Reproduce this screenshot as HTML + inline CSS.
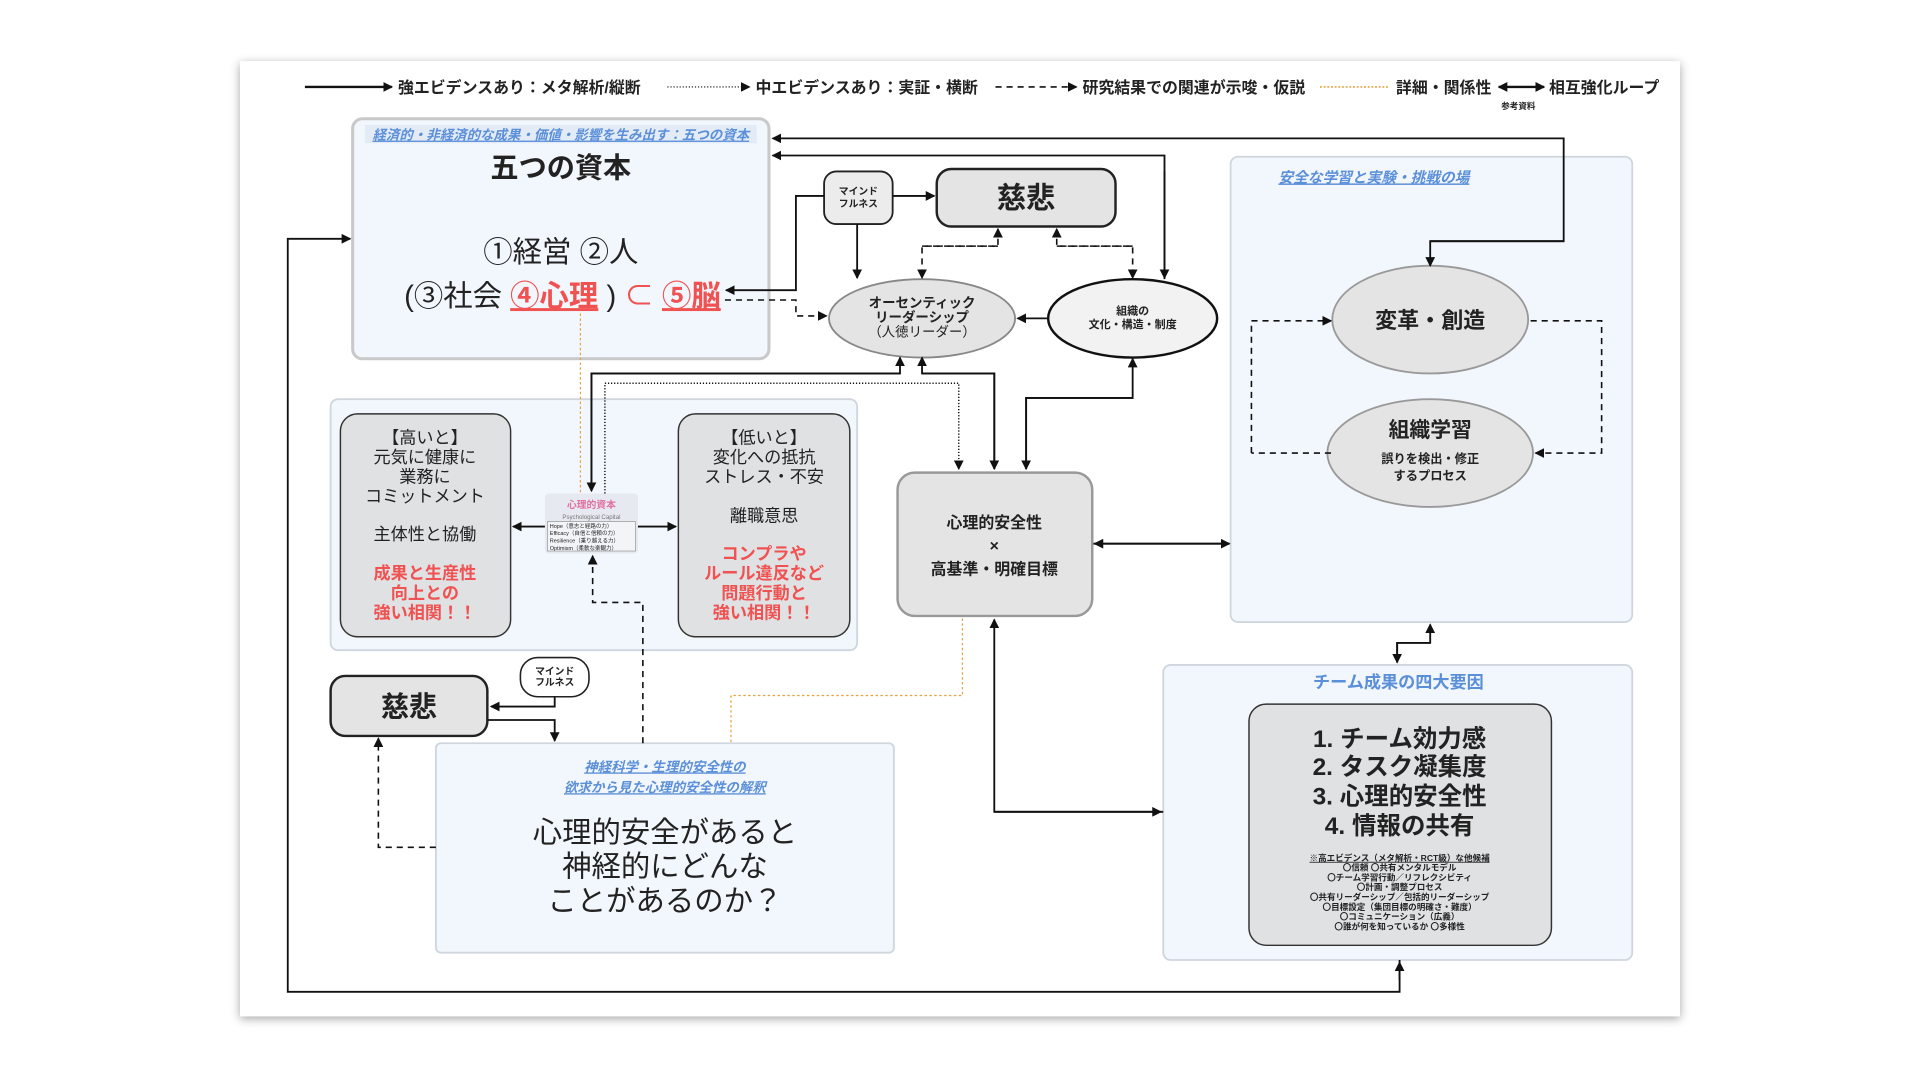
<!DOCTYPE html>
<html><head><meta charset="utf-8"><style>
html,body{margin:0;padding:0;background:#fff;width:1920px;height:1080px;overflow:hidden}
svg{display:block}
text{font-family:"Liberation Sans","Noto Sans CJK JP",sans-serif;fill:#222}
</style></head><body>
<svg width="1920" height="1080" viewBox="0 0 1568 882" xmlns="http://www.w3.org/2000/svg">
<defs>
<marker id="a" markerWidth="8" markerHeight="8" refX="7" refY="4" orient="auto-start-reverse" markerUnits="userSpaceOnUse"><path d="M0,0 L8,4 L0,8 z" fill="#111"/></marker>
<filter id="sh" x="-5%" y="-5%" width="110%" height="110%"><feDropShadow dx="0" dy="2" stdDeviation="4" flood-color="#000" flood-opacity="0.35"/></filter>
</defs>
<rect x="196" y="50" width="1176" height="780" fill="#fff" filter="url(#sh)"/>

<!-- legend -->
<g font-size="13" font-weight="bold">
<line x1="249" y1="71" x2="320" y2="71" stroke="#111" stroke-width="2" marker-end="url(#a)"/>
<text x="325" y="76">強エビデンスあり：メタ解析/縦断</text>
<line x1="545" y1="71" x2="612" y2="71" stroke="#111" stroke-width="1" stroke-dasharray="1,1.5" marker-end="url(#a)"/>
<text x="617" y="76">中エビデンスあり：実証・横断</text>
<line x1="813" y1="71" x2="879" y2="71" stroke="#111" stroke-width="1.3" stroke-dasharray="5,4" marker-end="url(#a)"/>
<text x="884" y="76">研究結果での関連が示唆・仮説</text>
<line x1="1078" y1="71" x2="1135" y2="71" stroke="#e8a040" stroke-width="1.3" stroke-dasharray="1.5,1.5"/>
<text x="1140" y="76">詳細・関係性</text>
<line x1="1224" y1="71" x2="1261" y2="71" stroke="#111" stroke-width="2" marker-end="url(#a)" marker-start="url(#a)"/>
<text x="1265" y="76">相互強化ループ</text>
<text x="1226" y="89" font-size="7">参考資料</text>
</g>

<!-- panels -->
<rect x="288" y="97" width="340" height="196" rx="8" fill="#f2f7fd" stroke="#c9c9c9" stroke-width="2.5"/>
<rect x="298" y="102" width="320" height="15" fill="#e3ebf7"/>
<text x="458" y="114" font-size="11" font-weight="bold" font-style="italic" text-anchor="middle" text-decoration="underline" style="fill:#5b8fd9">経済的・非経済的な成果・価値・影響を生み出す：五つの資本</text>
<text x="458" y="145" font-size="23" font-weight="bold" text-anchor="middle">五つの資本</text>
<text x="458" y="214" font-size="24" text-anchor="middle">①経営 ②人</text>
<text x="330" y="250" font-size="24">(③社会 <tspan style="fill:#f05252;font-weight:bold" text-decoration="underline">④心理</tspan> ) <tspan style="fill:#f05252">⊂</tspan> <tspan style="fill:#f05252;font-weight:bold" text-decoration="underline">⑤脳</tspan></text>

<rect x="1005" y="128" width="328" height="380" rx="6" fill="#f2f7fd" stroke="#d0d6de" stroke-width="1.5"/>
<text x="1122" y="149" font-size="12" font-weight="bold" font-style="italic" text-anchor="middle" text-decoration="underline" style="fill:#5b8fd9">安全な学習と実験・挑戦の場</text>

<rect x="270" y="326" width="430" height="205" rx="6" fill="#f2f7fd" stroke="#d0d6de" stroke-width="1.5"/>
<rect x="950" y="543" width="383" height="241" rx="6" fill="#f2f7fd" stroke="#d0d6de" stroke-width="1.5"/>
<text x="1142" y="562" font-size="14" font-weight="bold" text-anchor="middle" style="fill:#5b8fd9">チーム成果の四大要因</text>

<!-- nodes -->
<rect x="673" y="140" width="56" height="43" rx="10" fill="#ececec" stroke="#222" stroke-width="1.5"/>
<text x="701" y="159" font-size="8" font-weight="bold" text-anchor="middle">マインド</text>
<text x="701" y="169" font-size="8" font-weight="bold" text-anchor="middle">フルネス</text>
<rect x="765" y="138" width="146" height="47" rx="12" fill="#e4e4e4" stroke="#222" stroke-width="2"/>
<text x="838" y="170" font-size="24" font-weight="bold" text-anchor="middle">慈悲</text>

<ellipse cx="753" cy="260" rx="76" ry="32" fill="#e4e4e4" stroke="#888" stroke-width="1.5"/>
<text x="753" y="251" font-size="11" font-weight="bold" text-anchor="middle">オーセンティック</text>
<text x="753" y="263" font-size="11" font-weight="bold" text-anchor="middle">リーダーシップ</text>
<text x="753" y="275" font-size="11" text-anchor="middle">（人徳リーダー）</text>
<ellipse cx="925" cy="260" rx="69" ry="32" fill="#f2f2f2" stroke="#111" stroke-width="2"/>
<text x="925" y="257" font-size="9" font-weight="bold" text-anchor="middle">組織の</text>
<text x="925" y="268" font-size="9" font-weight="bold" text-anchor="middle">文化・構造・制度</text>

<ellipse cx="1168" cy="261" rx="80" ry="44" fill="#e4e4e4" stroke="#999" stroke-width="1.5"/>
<text x="1168" y="268" font-size="18" font-weight="bold" text-anchor="middle">変革・創造</text>
<ellipse cx="1168" cy="370" rx="84" ry="44" fill="#e4e4e4" stroke="#999" stroke-width="1.5"/>
<text x="1168" y="357" font-size="17" font-weight="bold" text-anchor="middle">組織学習</text>
<text x="1168" y="378" font-size="10" font-weight="bold" text-anchor="middle">誤りを検出・修正</text>
<text x="1168" y="392" font-size="10" font-weight="bold" text-anchor="middle">するプロセス</text>

<rect x="278" y="338" width="139" height="182" rx="14" fill="#e0e1e3" stroke="#333" stroke-width="1.2"/>
<g font-size="14" text-anchor="middle">
<text x="347" y="362">【高いと】</text><text x="347" y="378">元気に健康に</text><text x="347" y="394">業務に</text><text x="347" y="410">コミットメント</text>
<text x="347" y="441">主体性と協働</text>
<text x="347" y="473" font-weight="bold" style="fill:#f05252">成果と生産性</text><text x="347" y="489" font-weight="bold" style="fill:#f05252">向上との</text><text x="347" y="505" font-weight="bold" style="fill:#f05252">強い相関！！</text>
</g>
<rect x="554" y="338" width="140" height="182" rx="14" fill="#e0e1e3" stroke="#333" stroke-width="1.2"/>
<g font-size="14" text-anchor="middle">
<text x="624" y="362">【低いと】</text><text x="624" y="378">変化への抵抗</text><text x="624" y="394">ストレス・不安</text>
<text x="624" y="426">離職意思</text>
<text x="624" y="457" font-weight="bold" style="fill:#f05252">コンプラや</text><text x="624" y="473" font-weight="bold" style="fill:#f05252">ルール違反など</text><text x="624" y="489" font-weight="bold" style="fill:#f05252">問題行動と</text><text x="624" y="505" font-weight="bold" style="fill:#f05252">強い相関！！</text>
</g>
<rect x="445" y="403" width="76" height="49" rx="3" fill="#e6e9f0"/>
<text x="483" y="415" font-size="8" font-weight="bold" text-anchor="middle" style="fill:#e070a0">心理的資本</text>
<text x="483" y="424" font-size="5" text-anchor="middle" style="fill:#777">Psychological Capital</text>
<rect x="447" y="426" width="72" height="24" fill="#f3f4f8" stroke="#888" stroke-width="0.5"/>
<g font-size="4.5" style="fill:#555"><text x="449" y="431">Hope（意志と経路の力）</text><text x="449" y="437">Efficacy（自信と信頼の力）</text><text x="449" y="443">Resilience（乗り越える力）</text><text x="449" y="449">Optimism（柔軟な楽観力）</text></g>

<rect x="733" y="386" width="159" height="117" rx="14" fill="#e4e4e4" stroke="#999" stroke-width="2"/>
<text x="812" y="431" font-size="13" font-weight="bold" text-anchor="middle">心理的安全性</text>
<text x="812" y="450" font-size="13" font-weight="bold" text-anchor="middle">×</text>
<text x="812" y="469" font-size="13" font-weight="bold" text-anchor="middle">高基準・明確目標</text>

<rect x="1020" y="575" width="247" height="197" rx="14" fill="#e0e1e3" stroke="#333" stroke-width="1.2"/>
<g font-size="20" font-weight="bold" text-anchor="middle">
<text x="1143" y="610">1. チーム効力感</text><text x="1143" y="633">2. タスク凝集度</text><text x="1143" y="657">3. 心理的安全性</text><text x="1143" y="681">4. 情報の共有</text>
</g>
<g font-size="7" text-anchor="middle" font-weight="bold" style="fill:#333">
<text x="1143" y="703" text-decoration="underline">※高エビデンス（メタ解析・RCT級）な他候補</text>
<text x="1143" y="711">〇信頼 〇共有メンタルモデル</text>
<text x="1143" y="719">〇チーム学習行動／リフレクシビティ</text>
<text x="1143" y="727">〇計画・調整プロセス</text>
<text x="1143" y="735">〇共有リーダーシップ／包括的リーダーシップ</text>
<text x="1143" y="743">〇目標設定（集団目標の明確さ・難度）</text>
<text x="1143" y="751">〇コミュニケーション（広義）</text>
<text x="1143" y="759">〇誰が何を知っているか 〇多様性</text>
</g>

<rect x="270" y="552" width="128" height="49" rx="12" fill="#e4e4e4" stroke="#222" stroke-width="2"/>
<text x="334" y="585" font-size="23" font-weight="bold" text-anchor="middle">慈悲</text>
<rect x="425" y="537" width="56" height="32" rx="14" fill="#fff" stroke="#222" stroke-width="1.3"/>
<text x="453" y="551" font-size="8" font-weight="bold" text-anchor="middle">マインド</text>
<text x="453" y="560" font-size="8" font-weight="bold" text-anchor="middle">フルネス</text>

<rect x="356" y="607" width="374" height="171" rx="4" fill="#f2f7fd" stroke="#d0d6de" stroke-width="1.5"/>
<text x="543" y="630" font-size="11" font-weight="bold" font-style="italic" text-anchor="middle" text-decoration="underline" style="fill:#5b8fd9">神経科学・生理的安全性の</text>
<text x="543" y="647" font-size="11" font-weight="bold" font-style="italic" text-anchor="middle" text-decoration="underline" style="fill:#5b8fd9">欲求から見た心理的安全性の解釈</text>
<text x="543" y="688" font-size="24" text-anchor="middle">心理的安全があると</text>
<text x="543" y="716" font-size="24" text-anchor="middle">神経的にどんな</text>
<text x="543" y="744" font-size="24" text-anchor="middle">ことがあるのか？</text>

<!-- connectors -->
<g fill="none" stroke="#111" stroke-width="1.5">
<path d="M1143,784 V810 H235 V195 H286" marker-end="url(#a)"/>
<path d="M1143,800 V786" marker-end="url(#a)"/>
<path d="M1168,197 H1277 V113 H631" marker-end="url(#a)"/>
<path d="M1277,197 H1168 V217" marker-end="url(#a)"/>
<path d="M951,228 V127 H631" marker-end="url(#a)"/>
<path d="M951,140 V227" marker-end="url(#a)"/>
<path d="M729,160 H763" marker-end="url(#a)"/>
<path d="M700,183 V227" marker-end="url(#a)"/>
<path d="M673,160 H650 V237 H593" marker-end="url(#a)"/>
<path d="M855,260 H831" marker-end="url(#a)"/>
<path d="M838,383 V325 H925 V293" marker-end="url(#a)"/>
<path d="M925,325 H838 V383" marker-end="url(#a)"/>
<path d="M483,401 V305 H735 V292" marker-end="url(#a)"/>
<path d="M735,305 H483 V401" marker-end="url(#a)"/>
<path d="M812,383 V305 H753 V292" marker-end="url(#a)"/>
<path d="M753,305 H812 V383" marker-end="url(#a)"/>
<path d="M445,430 H419" marker-end="url(#a)"/>
<path d="M521,430 H552" marker-end="url(#a)"/>
<path d="M893,444 H1004" marker-end="url(#a)"/>
<path d="M1004,444 H894" marker-end="url(#a)"/>
<path d="M950,663 H812 V506" marker-end="url(#a)"/>
<path d="M812,663 H948" marker-end="url(#a)"/>
<path d="M1141,541 V525 H1168 V510" marker-end="url(#a)"/>
<path d="M1168,525 H1141 V541" marker-end="url(#a)"/>
<path d="M453,569 V577 H401" marker-end="url(#a)"/>
<path d="M398,588 H453 V605" marker-end="url(#a)"/>
</g>
<g fill="none" stroke="#111" stroke-width="1.3" stroke-dasharray="5,4">
<path d="M592,245 H650 V258 H675" marker-end="url(#a)"/>
<path d="M753,201 H815 V187" marker-end="url(#a)"/>
<path d="M815,201 H753 V227" marker-end="url(#a)"/>
<path d="M925,201 H863 V187" marker-end="url(#a)"/>
<path d="M863,201 H925 V227" marker-end="url(#a)"/>
<path d="M1022,370 V262 H1087" marker-end="url(#a)"/>
<path d="M1087,370 H1022"/>
<path d="M1250,262 H1308 V370 H1254" marker-end="url(#a)"/>
<path d="M525,607 V492 H484 V454" marker-end="url(#a)"/>
<path d="M356,692 H309 V603" marker-end="url(#a)"/>
</g>
<path d="M494,403 V313 H783 V383" fill="none" stroke="#111" stroke-width="1.2" stroke-dasharray="1,1.5" marker-end="url(#a)"/>
<g fill="none" stroke="#e8a040" stroke-width="1" stroke-dasharray="2,2">
<path d="M474,256 V403"/>
<path d="M786,505 V568 H597 V607"/>
</g>
</svg>
</body></html>
